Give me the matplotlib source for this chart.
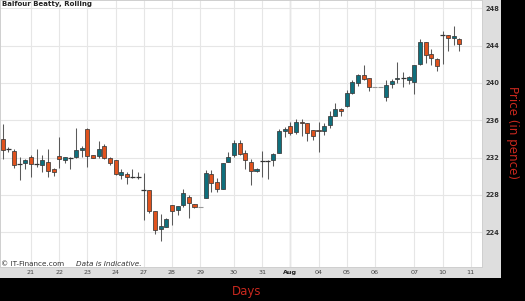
import matplotlib

matplotlib.use("Agg")
import matplotlib.pyplot as plt
from matplotlib.patches import Rectangle

# Rolling intraday candles (price in pence), one per period
opens = [234.0, 232.9, 232.7, 231.3, 231.4, 232.1, 231.3, 231.2, 231.5, 230.8,
         232.2, 231.7, 232.0, 232.05, 232.8, 235.1, 232.3, 232.2, 233.2, 231.9,
         231.7, 230.1, 230.2, 229.9, 229.9, 228.5, 228.5, 226.3, 224.3, 224.6,
         226.9, 226.4, 226.9, 227.8, 227.0, 226.7, 227.7, 230.2, 229.4, 228.6,
         231.5, 232.3, 233.6, 232.45, 231.55, 230.55, 231.65, 231.65, 231.7, 232.45,
         234.8, 235.4, 234.7, 235.85, 235.75, 235.0, 234.95, 234.85, 235.5, 236.45,
         237.2, 237.55, 238.9, 239.95, 240.85, 240.5, 239.6, 239.6, 238.45, 239.85,
         240.4, 240.5, 240.3, 240.1, 242.0, 244.35, 243.05, 242.55, 245.1, 245.15,
         244.85, 244.7]
highs = [235.6, 233.1, 232.9, 232.1, 231.8, 232.3, 232.9, 232.3, 232.9, 230.9,
         234.2, 232.1, 232.1, 235.2, 233.2, 235.2, 232.3, 233.8, 233.4, 232.1,
         231.7, 230.8, 230.5, 230.8, 230.5, 230.3, 228.5, 226.3, 225.9, 225.5,
         226.9, 226.8, 228.6, 228.0, 227.0, 226.7, 230.7, 230.7, 229.8, 231.4,
         232.6, 233.9, 233.9, 232.8, 231.8, 230.9, 232.7, 231.7, 232.45, 235.1,
         235.3, 235.8, 236.1, 236.1, 235.75, 235.0, 235.8, 235.75, 237.0, 237.8,
         237.3, 239.2, 240.3, 241.0, 241.9, 240.55, 239.6, 239.6, 240.3, 240.4,
         242.2, 241.2, 240.75, 241.9, 244.7, 244.35, 243.6, 242.65, 245.6, 245.15,
         246.1, 244.8]
lows = [231.8, 232.6, 230.9, 229.6, 230.8, 229.9, 231.0, 230.5, 229.9, 230.0,
        230.9, 231.4, 230.8, 232.0, 232.1, 231.0, 232.0, 232.0, 231.8, 231.2,
        230.1, 229.7, 229.2, 229.8, 229.7, 225.3, 226.1, 223.8, 223.1, 224.5,
        224.8, 225.8, 226.7, 225.5, 226.6, 226.7, 227.7, 228.3, 228.3, 228.6,
        231.5, 232.1, 232.3, 230.8, 229.05, 230.5, 229.9, 229.65, 231.1, 232.45,
        234.2, 234.4, 234.5, 234.3, 233.8, 233.9, 232.6, 234.4, 235.2, 236.4,
        236.4, 237.45, 238.8, 239.65, 240.3, 239.15, 239.6, 239.6, 238.05, 239.5,
        240.0, 239.6, 239.9, 238.8, 241.9, 242.1, 241.9, 241.3, 242.0, 243.4,
        244.1, 243.4]
closes = [232.8, 232.9, 231.2, 231.3, 231.7, 231.3, 231.3, 231.7, 230.6, 230.5,
          231.8, 232.1, 232.0, 232.8, 233.0, 232.2, 232.0, 232.9, 231.9, 231.4,
          230.2, 230.4, 229.9, 229.9, 229.9, 228.5, 226.3, 224.2, 224.7, 225.4,
          226.3, 226.8, 228.2, 227.1, 226.7, 226.7, 230.3, 229.3, 228.6, 231.4,
          232.1, 233.6, 232.4, 231.7, 230.55, 230.8, 231.65, 231.65, 232.35, 234.85,
          235.1, 234.65, 235.8, 235.7, 234.6, 234.3, 234.85, 235.4, 236.4, 237.2,
          237.0, 238.9, 240.1, 240.85, 240.4, 239.6, 239.6, 239.6, 239.8, 240.25,
          240.55, 240.5, 240.65, 241.9, 244.4, 243.0, 242.65, 241.8, 245.1, 244.8,
          245.0, 244.15]

day_labels = ["21", "22", "23", "24", "27", "28", "29", "30", "31", "Aug",
              "04", "05", "06", "07", "10", "11"]
day_starts = [5, 10, 15, 20, 25, 30, 35, 41, 46, 51, 56, 61, 66, 73, 78, 83]
price_ticks = [224, 228, 232, 236, 240, 244, 248]

W, H = 525, 301
UP = "#0f6f7c"
DOWN = "#e0521d"
RED_TEXT = "#c8281e"

fig = plt.figure(figsize=(W / 100, H / 100), dpi=100, facecolor="black")
# grey frame holding the tick labels
fig.patches.append(Rectangle((0, 1 - 278 / H), 501 / W, 278 / H,
                             transform=fig.transFigure, facecolor="#dedede",
                             edgecolor="none", zorder=-5))

ax = fig.add_axes([0, 1 - 267 / H, 482 / W, 267 / H])
ax.set_zorder(2)
ax.set_facecolor("white")
ax.set_xlim(-0.5, 85)
ax.set_ylim(220.26, 248.89)

ax.yaxis.tick_right()
ax.set_yticks(price_ticks)
ax.set_yticklabels([str(t) for t in price_ticks], fontsize=4.8, fontweight="bold",
                   color="#333333")
ax.set_xticks(day_starts)
ax.set_xticklabels(day_labels, fontsize=4.6, color="#444444")
for label in ax.get_xticklabels():
    if label.get_text() == "Aug":
        label.set_fontweight("bold")
        label.set_color("#222222")
ax.tick_params(axis="both", length=0)
ax.tick_params(axis="y", pad=2.5)
ax.tick_params(axis="x", pad=2.2)

ax.grid(True, color="#e6e6e6", linewidth=0.8, zorder=0)
ax.set_axisbelow(True)
ax.axvline(day_starts[day_labels.index("Aug")], color="#b4b4b4", linewidth=0.9,
           zorder=0.5)
for spine in ax.spines.values():
    spine.set_color("#cfcfcf")
    spine.set_linewidth(0.7)

body_width = 0.72
for i, (o, h, l, c) in enumerate(zip(opens, highs, lows, closes)):
    if h == l:
        ax.hlines(o, i - 0.45, i + 0.45, color="#9a9a9a", linewidth=0.8, zorder=3)
        continue
    ax.vlines(i, l, h, color="#5a5a5a", linewidth=0.75, zorder=2)
    if o == c:
        ax.hlines(o, i - 0.45, i + 0.45, color="#333333", linewidth=0.9, zorder=3)
    else:
        ax.bar(i, abs(c - o), bottom=min(o, c), width=body_width,
               color=UP if c > o else DOWN, edgecolor="#3a3a3a",
               linewidth=0.55, zorder=3)

fig.text(2 / W, 1 - 1 / H, "Balfour Beatty, Rolling", fontsize=5, fontweight="bold",
         color="#222222", ha="left", va="top", zorder=5)
fig.text(1 / W, 1 - 264 / H, "\u00a9 IT-Finance.com", fontsize=5.2, color="#333333",
         ha="left", va="center", zorder=5)
fig.text(76 / W, 1 - 264 / H, "Data is Indicative.", fontsize=5.2, style="italic",
         color="#333333", ha="left", va="center", zorder=5)

fig.text(513 / W, 1 - 133 / H, "Price (in pence)", fontsize=8.6, color=RED_TEXT,
         rotation=-90, ha="center", va="center")
fig.text(247 / W, 1 - 291 / H, "Days", fontsize=8.5, color=RED_TEXT,
         ha="center", va="center")

fig.savefig("out.png", dpi=100, facecolor="black")
